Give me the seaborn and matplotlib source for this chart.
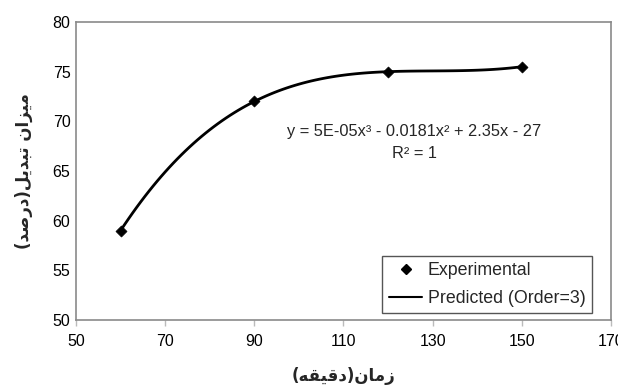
import numpy as np
import pandas as pd
import matplotlib
matplotlib.use("Agg")
import matplotlib.pyplot as plt
import seaborn as sns
from matplotlib.lines import Line2D

# ---- data ----
time_min = [60, 90, 120, 150]
conversion = [59, 72, 75, 75.5]
x_ticks = [50, 70, 90, 110, 130, 150, 170]
y_ticks = [50, 55, 60, 65, 70, 75, 80]
legend_labels = ["Experimental", "Predicted (Order=3)"]
equation_text = "y = 5E-05x\u00b3 - 0.0181x\u00b2 + 2.35x - 27"
r2_text = "R\u00b2 = 1"

# Persian labels in visual order with presentation forms
xlabel = "(" + "\uFEEA\uFED8\uFEF4\uFED7\uFEA9" + ")" + "\uFEE5\uFE8E\uFEE3\uFEAF"
ylabel = ("(" + "\uFEAA\uFEBB\uFEAD\uFEA9" + ")" + "\uFEDE\uFEF3\uFEAA\uFE92\uFE97"
          + " " + "\uFEE5\uFE8D\uFEB0\uFEF4\uFEE3")

df = pd.DataFrame({"time": time_min, "conv": conversion})

sns.set_theme(style="white")
plt.rcParams["font.family"] = ["Liberation Sans", "DejaVu Sans"]

fig = plt.figure(figsize=(6.18, 3.91), dpi=100)
ax = fig.add_axes([76/618, 1-320/391, (611-76)/618, (320-22)/391])

sns.regplot(data=df, x="time", y="conv", order=3, ci=None, scatter=False,
            ax=ax, line_kws=dict(color="black", lw=2.0))
sns.scatterplot(data=df, x="time", y="conv", marker="D", s=32, color="black",
                edgecolor="black", ax=ax, zorder=5)

ax.set_xlim(50, 170)
ax.set_ylim(50, 80)
ax.set_xticks(x_ticks)
ax.set_yticks(y_ticks)
ax.tick_params(axis="x", labelsize=11.5, colors="#bbbbbb", labelcolor="black",
               length=4, width=1, direction="out", bottom=True, pad=6)
ax.tick_params(axis="y", labelsize=11.5, labelcolor="black", length=0,
               left=True, pad=4)
for s in ax.spines.values():
    s.set_color("#8a8a8a")
    s.set_linewidth(1.2)

ax.set_xlabel(xlabel, fontsize=12, fontweight="bold", family=["DejaVu Sans"], labelpad=13)
ax.set_ylabel(ylabel, fontsize=12, fontweight="bold", family=["DejaVu Sans"], labelpad=14)

ax.text(125.8, 69.0, equation_text, ha="center", va="center", fontsize=11.8)
ax.text(125.8, 66.8, r2_text, ha="center", va="center", fontsize=11.8)

handles = [Line2D([], [], marker="D", color="black", ls="none", markersize=5),
           Line2D([], [], color="black", lw=1.5)]
leg = ax.legend(handles, legend_labels, loc="lower right",
                bbox_to_anchor=(0.964, 0.023), borderaxespad=0, fontsize=12.8,
                frameon=True, fancybox=False, framealpha=1, edgecolor="#555555",
                handlelength=1.9, handletextpad=0.3, labelspacing=0.6,
                borderpad=0.35)
leg.get_frame().set_linewidth(1.0)

fig.savefig("out.png", dpi=100)
